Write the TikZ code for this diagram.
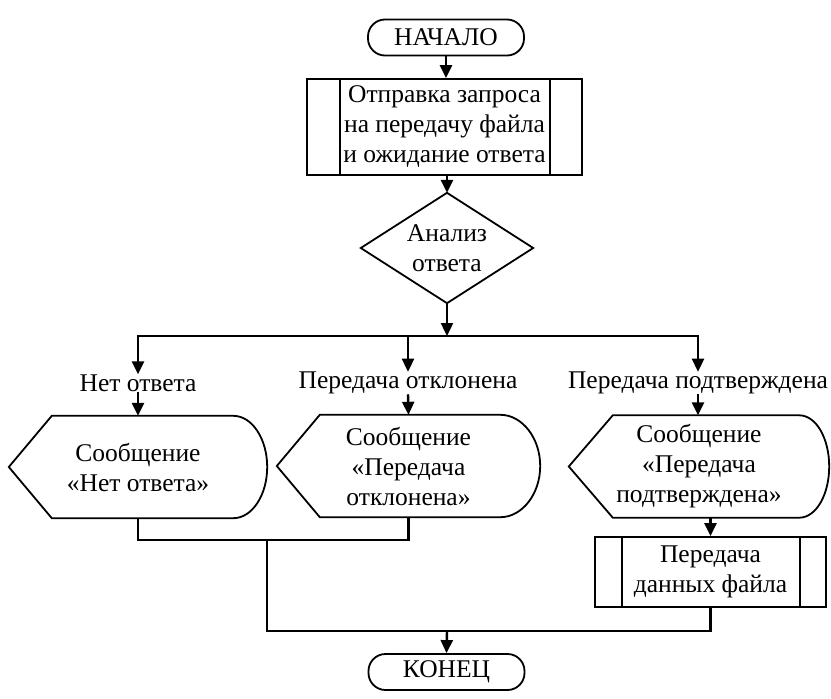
\documentclass[tikz,border=0pt]{standalone}
\usepackage{fontspec}
\setmainfont{Liberation Serif}
\usetikzlibrary{arrows.meta,calc}
\newcommand\dispshape[4]{% name, curve width, 0.45*curve width, point depth
  \draw[outline] (#1.west) -- ([xshift=#4]#1.north west) -- ([xshift=-#2]#1.north east)
    .. controls ([xshift=-#3]#1.north east) and ([yshift=28pt]#1.east) .. (#1.east)
    .. controls ([yshift=-28pt]#1.east) and ([xshift=-#3]#1.south east) .. ([xshift=-#2]#1.south east)
    -- ([xshift=#4]#1.south west) -- cycle;}
\begin{document}
\begin{tikzpicture}[x=1pt,y=1pt,
  every node/.style={font=\fontsize{25.5}{30}\selectfont, align=center, inner sep=0pt},
  conn/.style={line width=2.4pt},
  arr/.style={conn, -{Triangle[length=13pt,width=12pt]}},
  outline/.style={line width=1.8pt},
  term/.style={draw, outline, rounded corners=17pt, minimum width=156pt, minimum height=36pt},
  procbox/.style={draw, outline},
  msg/.style={minimum height=102pt},
  lbl/.style={}]
\useasboundingbox (0,0) rectangle (831,-699);

\node[term] (start) at (446,-37.5) {НАЧАЛО};
\node[procbox, minimum width=275pt, minimum height=96pt] (req) at (444.5,-127)
  {Отправка запроса\\на передачу файла\\и ожидание ответа};
\draw[outline] ([xshift=34pt]req.north west) -- ([xshift=34pt]req.south west);
\draw[outline] ([xshift=-33pt]req.north east) -- ([xshift=-33pt]req.south east);

\node[minimum width=172pt, minimum height=110pt] (dec) at (447,-248) {Анализ\\ответа};
\draw[outline] (dec.north) -- (dec.east) -- (dec.south) -- (dec.west) -- cycle;

\node[lbl] (l1) at (138,-383) {Нет ответа};
\node[lbl] (l2) at (408,-383) {Передача отклонена};
\node[lbl] (l3) at (698,-383) {Передача подтверждена};

\node[msg, minimum width=258pt] (m1) at (138,-467) {Сообщение\\«Нет ответа»};
\node[msg, minimum width=263pt] (m2) at (408.5,-466) {Сообщение\\«Передача\\отклонена»};
\node[msg, minimum width=260pt] (m3) at (699,-466.5) {Сообщение\\«Передача\\подтверждена»};
\dispshape{m1}{34pt}{15pt}{43pt}
\dispshape{m2}{40pt}{18pt}{43pt}
\dispshape{m3}{30pt}{13pt}{44pt}

\node[procbox, minimum width=231pt, minimum height=70pt] (data) at (710.5,-572) {Передача\\данных файла};
\draw[outline] ([xshift=28pt]data.north west) -- ([xshift=28pt]data.south west);
\draw[outline] ([xshift=-27pt]data.north east) -- ([xshift=-27pt]data.south east);

\node[term] (end) at (446.5,-672) {КОНЕЦ};

\coordinate (split) at (447,-336);
\coordinate (j1) at (267,-540);
\coordinate (j2) at (447,-631);

\draw[arr] (start.south) -- (start.south |- req.north);
\draw[arr] (req.south -| dec.north) -- (dec.north);
\draw[arr] (dec.south) -- (split);
\draw[arr] (split) -| (l1.north);
\draw[arr] (split) -| (l2.north);
\draw[arr] (split) -| (l3.north);
\draw[arr] (l1.south) -- (m1.north);
\draw[arr] (l2.south) -- (m2.north);
\draw[arr] (l3.south) -- (l3.south |- m3.north);
\draw[arr] (data.north |- m3.south) -- (data.north);
\draw[conn] (m1.south) |- (j1) -| (m2.south);
\draw[conn] (j1) |- (j2);
\draw[conn] (data.south) |- (j2);
\draw[arr] (j2) -- (end.north);
\end{tikzpicture}
\end{document}
